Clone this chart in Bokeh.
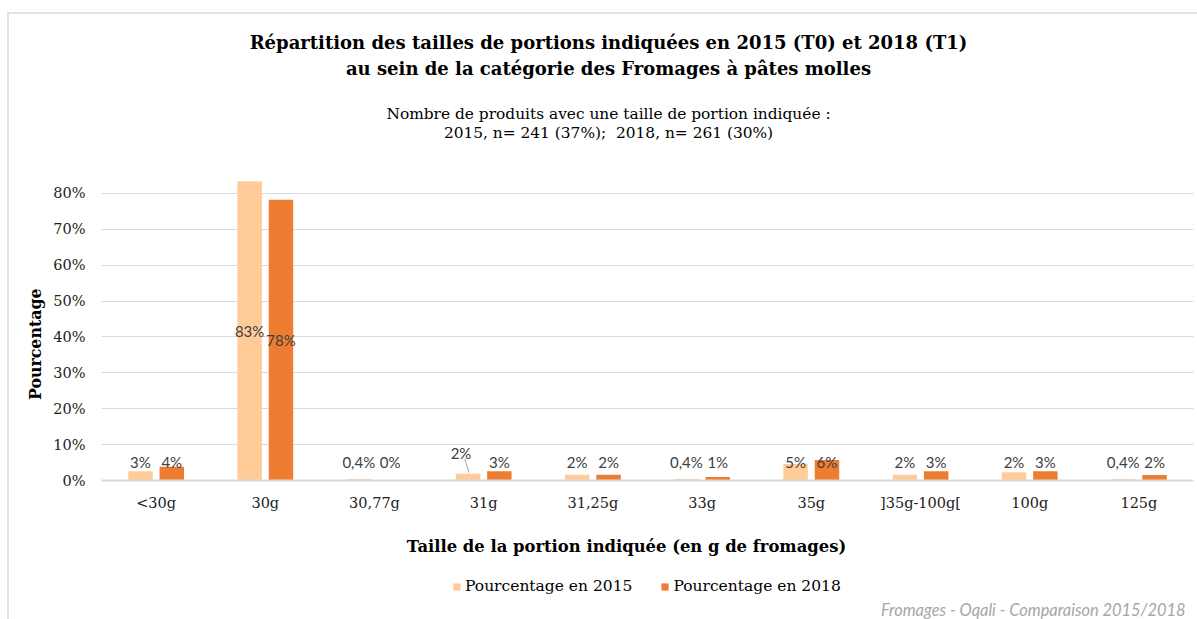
import math
from bokeh.plotting import figure
from bokeh.layouts import column, row
from bokeh.models import ColumnDataSource, FixedTicker, Legend, LegendItem, Range1d
from bokeh.transform import dodge
from bokeh.core.properties import value
from bokeh.embed import file_html
from bokeh.resources import INLINE

# ---------------- data ----------------
categories = ["<30g", "30g", "30,77g", "31g", "31,25g", "33g", "35g",
              "]35g-100g[", "100g", "125g"]
pct_2015 = [2.6, 83.4, 0.4, 1.9, 1.6, 0.4, 4.6, 1.6, 2.3, 0.4]
pct_2018 = [3.8, 78.2, 0.0, 2.6, 1.6, 1.0, 5.7, 2.6, 2.6, 1.5]
series_names = ["Pourcentage en 2015", "Pourcentage en 2018"]
y_ticks = [0, 10, 20, 30, 40, 50, 60, 70, 80]

title_lines = ["Répartition des tailles de portions indiquées en 2015 (T0) et 2018 (T1)",
               "au sein de la catégorie des Fromages à pâtes molles"]
subtitle_lines = ["Nombre de produits avec une taille de portion indiquée :",
                  "2015, n= 241 (37%);\u00a0 2018, n= 261 (30%)"]
x_title = "Taille de la portion indiquée (en g de fromages)"
y_title = "Pourcentage"
footer = "Fromages - Oqali - Comparaison 2015/2018"

# ---------------- style ----------------
C15 = "#FFCC99"
C18 = "#ED7D31"
GRID = "#D9D9D9"
SERIF = "DejaVu Serif"
OFF = 0.1435
BW = 0.224
W, H = 1197, 619
TOP_H = 157          # header height (frame top of chart)
MID_H = 358          # chart figure height (frame 323 + axis 35)
LEFT_W = 50


def fmt(v):
    if 0 < v < 1:
        return ("%.1f" % v).replace(".", ",") + "%"
    return "%d%%" % int(math.floor(v + 0.5))


def label_y(v):
    return v / 2 if v > 50 else 5.2


def blank_fig(w, h):
    f = figure(width=w, height=h, x_range=Range1d(0, w), y_range=Range1d(h, 0),
               output_backend="svg", toolbar_location=None,
               x_axis_location=None, y_axis_location=None,
               min_border=0, min_border_left=0, min_border_right=0,
               min_border_top=0, min_border_bottom=0)
    f.grid.visible = False
    f.outline_line_color = None
    f.background_fill_color = None
    f.border_fill_color = None
    return f


def put(f, txt, x, y, size, style="normal", color="#000000", font=SERIF,
        align="center", angle=0.0):
    f.text(x=[x], y=[y], text=[txt], text_font=value(font), text_font_size=size,
           text_font_style=style, text_color=color, text_align=align,
           text_baseline="middle", angle=angle)


# ---------------- header ----------------
head = blank_fig(W, TOP_H)
put(head, title_lines[0], 608, 42, "18px", "bold")
put(head, title_lines[1], 608, 68, "18px", "bold")
put(head, subtitle_lines[0], 608, 113, "15.4px")
put(head, subtitle_lines[1], 608, 132, "15.4px")

# ---------------- left (y title) ----------------
left = blank_fig(LEFT_W, MID_H)
put(left, y_title, 35, 364 - TOP_H, "15.8px", "bold", angle=math.pi / 2)

# ---------------- chart ----------------
p = figure(x_range=categories, y_range=(0, 90), width=W - LEFT_W, height=MID_H,
           output_backend="svg", toolbar_location=None,
           min_border_left=101 - LEFT_W, min_border_right=4, min_border_top=0,
           min_border_bottom=35)
p.outline_line_color = None
p.background_fill_color = None
p.border_fill_color = None

src = ColumnDataSource(dict(cat=categories, v15=pct_2015, v18=pct_2018))
r15 = p.vbar(x=dodge("cat", -OFF, range=p.x_range), top="v15", width=BW,
             source=src, fill_color=C15, line_color=None)
r18 = p.vbar(x=dodge("cat", OFF, range=p.x_range), top="v18", width=BW,
             source=src, fill_color=C18, line_color=None)

lab15 = dict(cat=list(categories), y=[label_y(v) for v in pct_2015],
             t=[fmt(v) for v in pct_2015], xo=[0.0] * len(categories))
lab18 = dict(cat=list(categories), y=[label_y(v) for v in pct_2018],
             t=[fmt(v) for v in pct_2018], xo=[0.0] * len(categories))
i31 = categories.index("31g")
lab15["y"][i31] = 7.8
lab15["xo"][i31] = -7.0

for lab, off in ((lab15, -OFF), (lab18, OFF)):
    p.text(x=dodge("cat", off, range=p.x_range), y="y", text="t", x_offset="xo",
           source=ColumnDataSource(lab), text_font=value("Lato"),
           text_font_size="15px", text_color="#404040", text_align="center",
           text_baseline="middle")

lead = ColumnDataSource(dict(cat=[categories[i31]], y0=[6.0], y1=[pct_2015[i31] + 0.3]))
p.segment(x0=dodge("cat", -OFF - 0.03, range=p.x_range), y0="y0",
          x1=dodge("cat", -OFF + 0.01, range=p.x_range), y1="y1",
          source=lead, line_color="#A6A6A6", line_width=1)

p.xgrid.grid_line_color = None
p.ygrid.grid_line_color = GRID
p.ygrid.grid_line_width = 1
p.yaxis.ticker = FixedTicker(ticks=y_ticks)
p.yaxis.major_label_overrides = {t: "%d%%" % t for t in y_ticks}
p.yaxis.axis_line_color = None
p.yaxis.major_label_standoff = 16
p.xaxis.axis_line_color = GRID
p.xaxis.axis_line_width = 2
p.xaxis.major_label_standoff = 14
for ax in (p.xaxis, p.yaxis):
    ax.major_tick_line_color = None
    ax.minor_tick_line_color = None
    ax.major_tick_out = 0
    ax.major_tick_in = 0
    ax.minor_tick_out = 0
    ax.major_label_text_font = SERIF
    ax.major_label_text_font_size = "14.5px"
    ax.major_label_text_color = "#222222"

# ---------------- footer (x title, legend, source) ----------------
FOOT_H = H - TOP_H - MID_H
foot = blank_fig(W, FOOT_H)
put(foot, x_title, 626, 546 - TOP_H - MID_H, "16.4px", "bold")
put(foot, footer, 1185, 609 - TOP_H - MID_H, "16.4px", "italic", color="#A6A6A6",
    font="Lato", align="right")
# legend keys: zero-size bars, only used for their colours
g15 = foot.vbar(x=[0], top=[0], bottom=[0], width=0, fill_color=C15, line_color=None)
g18 = foot.vbar(x=[0], top=[0], bottom=[0], width=0, fill_color=C18, line_color=None)
legend = Legend(items=[LegendItem(label=series_names[0], renderers=[g15]),
                       LegendItem(label=series_names[1], renderers=[g18])],
                orientation="horizontal", location=(452, FOOT_H - (586 - TOP_H - MID_H) - 10),
                glyph_width=9, glyph_height=9, label_standoff=4, spacing=28,
                padding=0, margin=0, border_line_color=None,
                background_fill_alpha=0, label_text_font=SERIF,
                label_text_font_size="15.5px", label_text_color="#000000",
                label_height=20)
foot.add_layout(legend)

page = column(head, row(left, p), foot,
              styles={"background": "linear-gradient(#E3E3E3,#E3E3E3) 7px 12px / 2px 100% no-repeat, "
                                    "linear-gradient(#E3E3E3,#E3E3E3) 7px 12px / 100% 2px no-repeat, white"})

open("out.html", "w").write(file_html(page, INLINE))
